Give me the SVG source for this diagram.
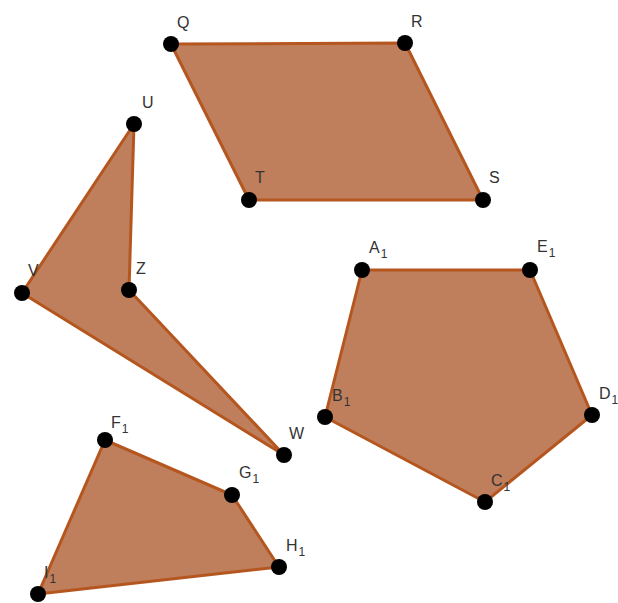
<svg xmlns="http://www.w3.org/2000/svg" width="618" height="603" viewBox="0 0 618 603">
<style>
.poly{fill:#bf7f5c;stroke:#b5561f;stroke-width:3;stroke-linejoin:round}
.pt{fill:#000}
text{font-family:"Liberation Sans",Arial,sans-serif;font-size:16px;fill:#333}
.sub{font-size:12px}
</style>
<rect width="618" height="603" fill="#fff"/>
<g id="connectors">
<polygon class="poly" points="171,44 405,43 483,200 249,200"/>
<polygon class="poly" points="134,124 129,290 284,455 22,293"/>
<polygon class="poly" points="362,270 530,270 592,415 485,502 325,417"/>
<polygon class="poly" points="105,440 232,495 279,567 38,594"/>
</g>
<g id="Q"><circle class="pt" cx="171" cy="44" r="8"/><text x="177" y="28">Q</text></g>
<g id="R"><circle class="pt" cx="405" cy="43" r="8"/><text x="411" y="27">R</text></g>
<g id="S"><circle class="pt" cx="483" cy="200" r="8"/><text x="489" y="183">S</text></g>
<g id="T"><circle class="pt" cx="249" cy="200" r="8"/><text x="255" y="183">T</text></g>
<g id="U"><circle class="pt" cx="134" cy="124" r="8"/><text x="142" y="108">U</text></g>
<g id="V"><circle class="pt" cx="22" cy="293" r="8"/><text x="28" y="276">V</text></g>
<g id="Z"><circle class="pt" cx="129" cy="290" r="8"/><text x="136" y="274">Z</text></g>
<g id="W"><circle class="pt" cx="284" cy="455" r="8"/><text x="289" y="439">W</text></g>
<g id="A1"><circle class="pt" cx="362" cy="270" r="8"/><text x="369" y="253">A<tspan class="sub" dx="1" dy="5">1</tspan></text></g>
<g id="E1"><circle class="pt" cx="530" cy="270" r="8"/><text x="537" y="252">E<tspan class="sub" dx="1" dy="5">1</tspan></text></g>
<g id="D1"><circle class="pt" cx="592" cy="415" r="8"/><text x="599" y="399">D<tspan class="sub" dx="1" dy="5">1</tspan></text></g>
<g id="C1"><circle class="pt" cx="485" cy="502" r="8"/><text x="491" y="486">C<tspan class="sub" dx="1" dy="5">1</tspan></text></g>
<g id="B1"><circle class="pt" cx="325" cy="417" r="8"/><text x="332" y="401">B<tspan class="sub" dx="1" dy="5">1</tspan></text></g>
<g id="F1"><circle class="pt" cx="105" cy="440" r="8"/><text x="111" y="428">F<tspan class="sub" dx="1" dy="5">1</tspan></text></g>
<g id="G1"><circle class="pt" cx="232" cy="495" r="8"/><text x="239" y="478">G<tspan class="sub" dx="1" dy="5">1</tspan></text></g>
<g id="H1"><circle class="pt" cx="279" cy="567" r="8"/><text x="286" y="551">H<tspan class="sub" dx="1" dy="5">1</tspan></text></g>
<g id="I1"><circle class="pt" cx="38" cy="594" r="8"/><text x="44" y="578">I<tspan class="sub" dx="1" dy="5">1</tspan></text></g>
</svg>
